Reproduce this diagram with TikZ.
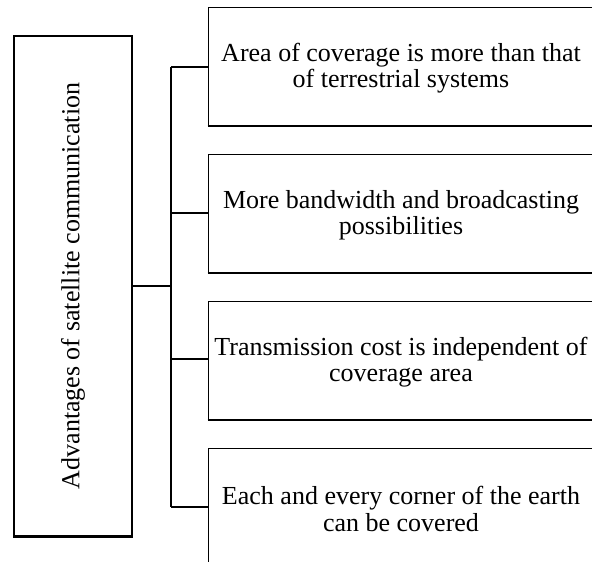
\documentclass[tikz,border=0pt]{standalone}
\usepackage{fontspec}
\setmainfont{Liberation Serif}
\begin{document}
\begin{tikzpicture}[x=1pt,y=-1pt,
  box/.style={draw=black, line width=1pt, minimum width=386pt, minimum height=118pt, inner sep=0pt},
  txt/.style={align=center, font=\fontsize{26}{26.3}\selectfont, inner sep=0pt},
  conn/.style={line width=2pt},
  thinconn/.style={line width=1.2pt},
  bot/.style={line width=2pt}]
\useasboundingbox (0,0) rectangle (592,562);
\clip (0,0) rectangle (592,562);
\fill[white] (0,0) rectangle (592,562);
% left box
\node[draw=black, line width=1.2pt, minimum width=118pt, minimum height=500pt, inner sep=0pt] (main) at (73,286) {};
\node[txt, rotate=90] (maintxt) at (73,286) {Advantages of satellite communication};
% right boxes
\node[box] (b1) at (401,66) {};
\node[box] (b2) at (401,213) {};
\node[box] (b3) at (401,360) {};
\node[box] (b4) at (401,507) {};
\node[txt] (t1) at (401,68) {Area of coverage is more than that\\of terrestrial systems};
\node[txt] (t2) at (401,215) {More bandwidth and broadcasting\\possibilities};
\node[txt] (t3) at (401,362) {Transmission cost is independent of\\coverage area};
\node[txt] (t4) at (401,509) {Each and every corner of the earth\\can be covered};
% thicker bottom edges
\draw[bot] (b1.south west) -- (b1.south east);
\draw[bot] (b2.south west) -- (b2.south east);
\draw[bot] (b3.south west) -- (b3.south east);
\draw[bot] (main.south west) -- (main.south east);
% connectors
\coordinate (j0) at (171,286);
\coordinate (j1) at (171,67);
\coordinate (j4) at (171,507);
\draw[conn] (main.east |- j0) -- (j0);
\draw[conn] (j1) -- (j4);
\draw[conn] (j1) -- (b1.west |- j1);
\draw[conn] (171,213) -- (b2.west |- 0,213);
\draw[thinconn] (171,359) -- (b3.west |- 0,359);
\draw[thinconn] (j4) -- (b4.west |- j4);
\end{tikzpicture}
\end{document}
